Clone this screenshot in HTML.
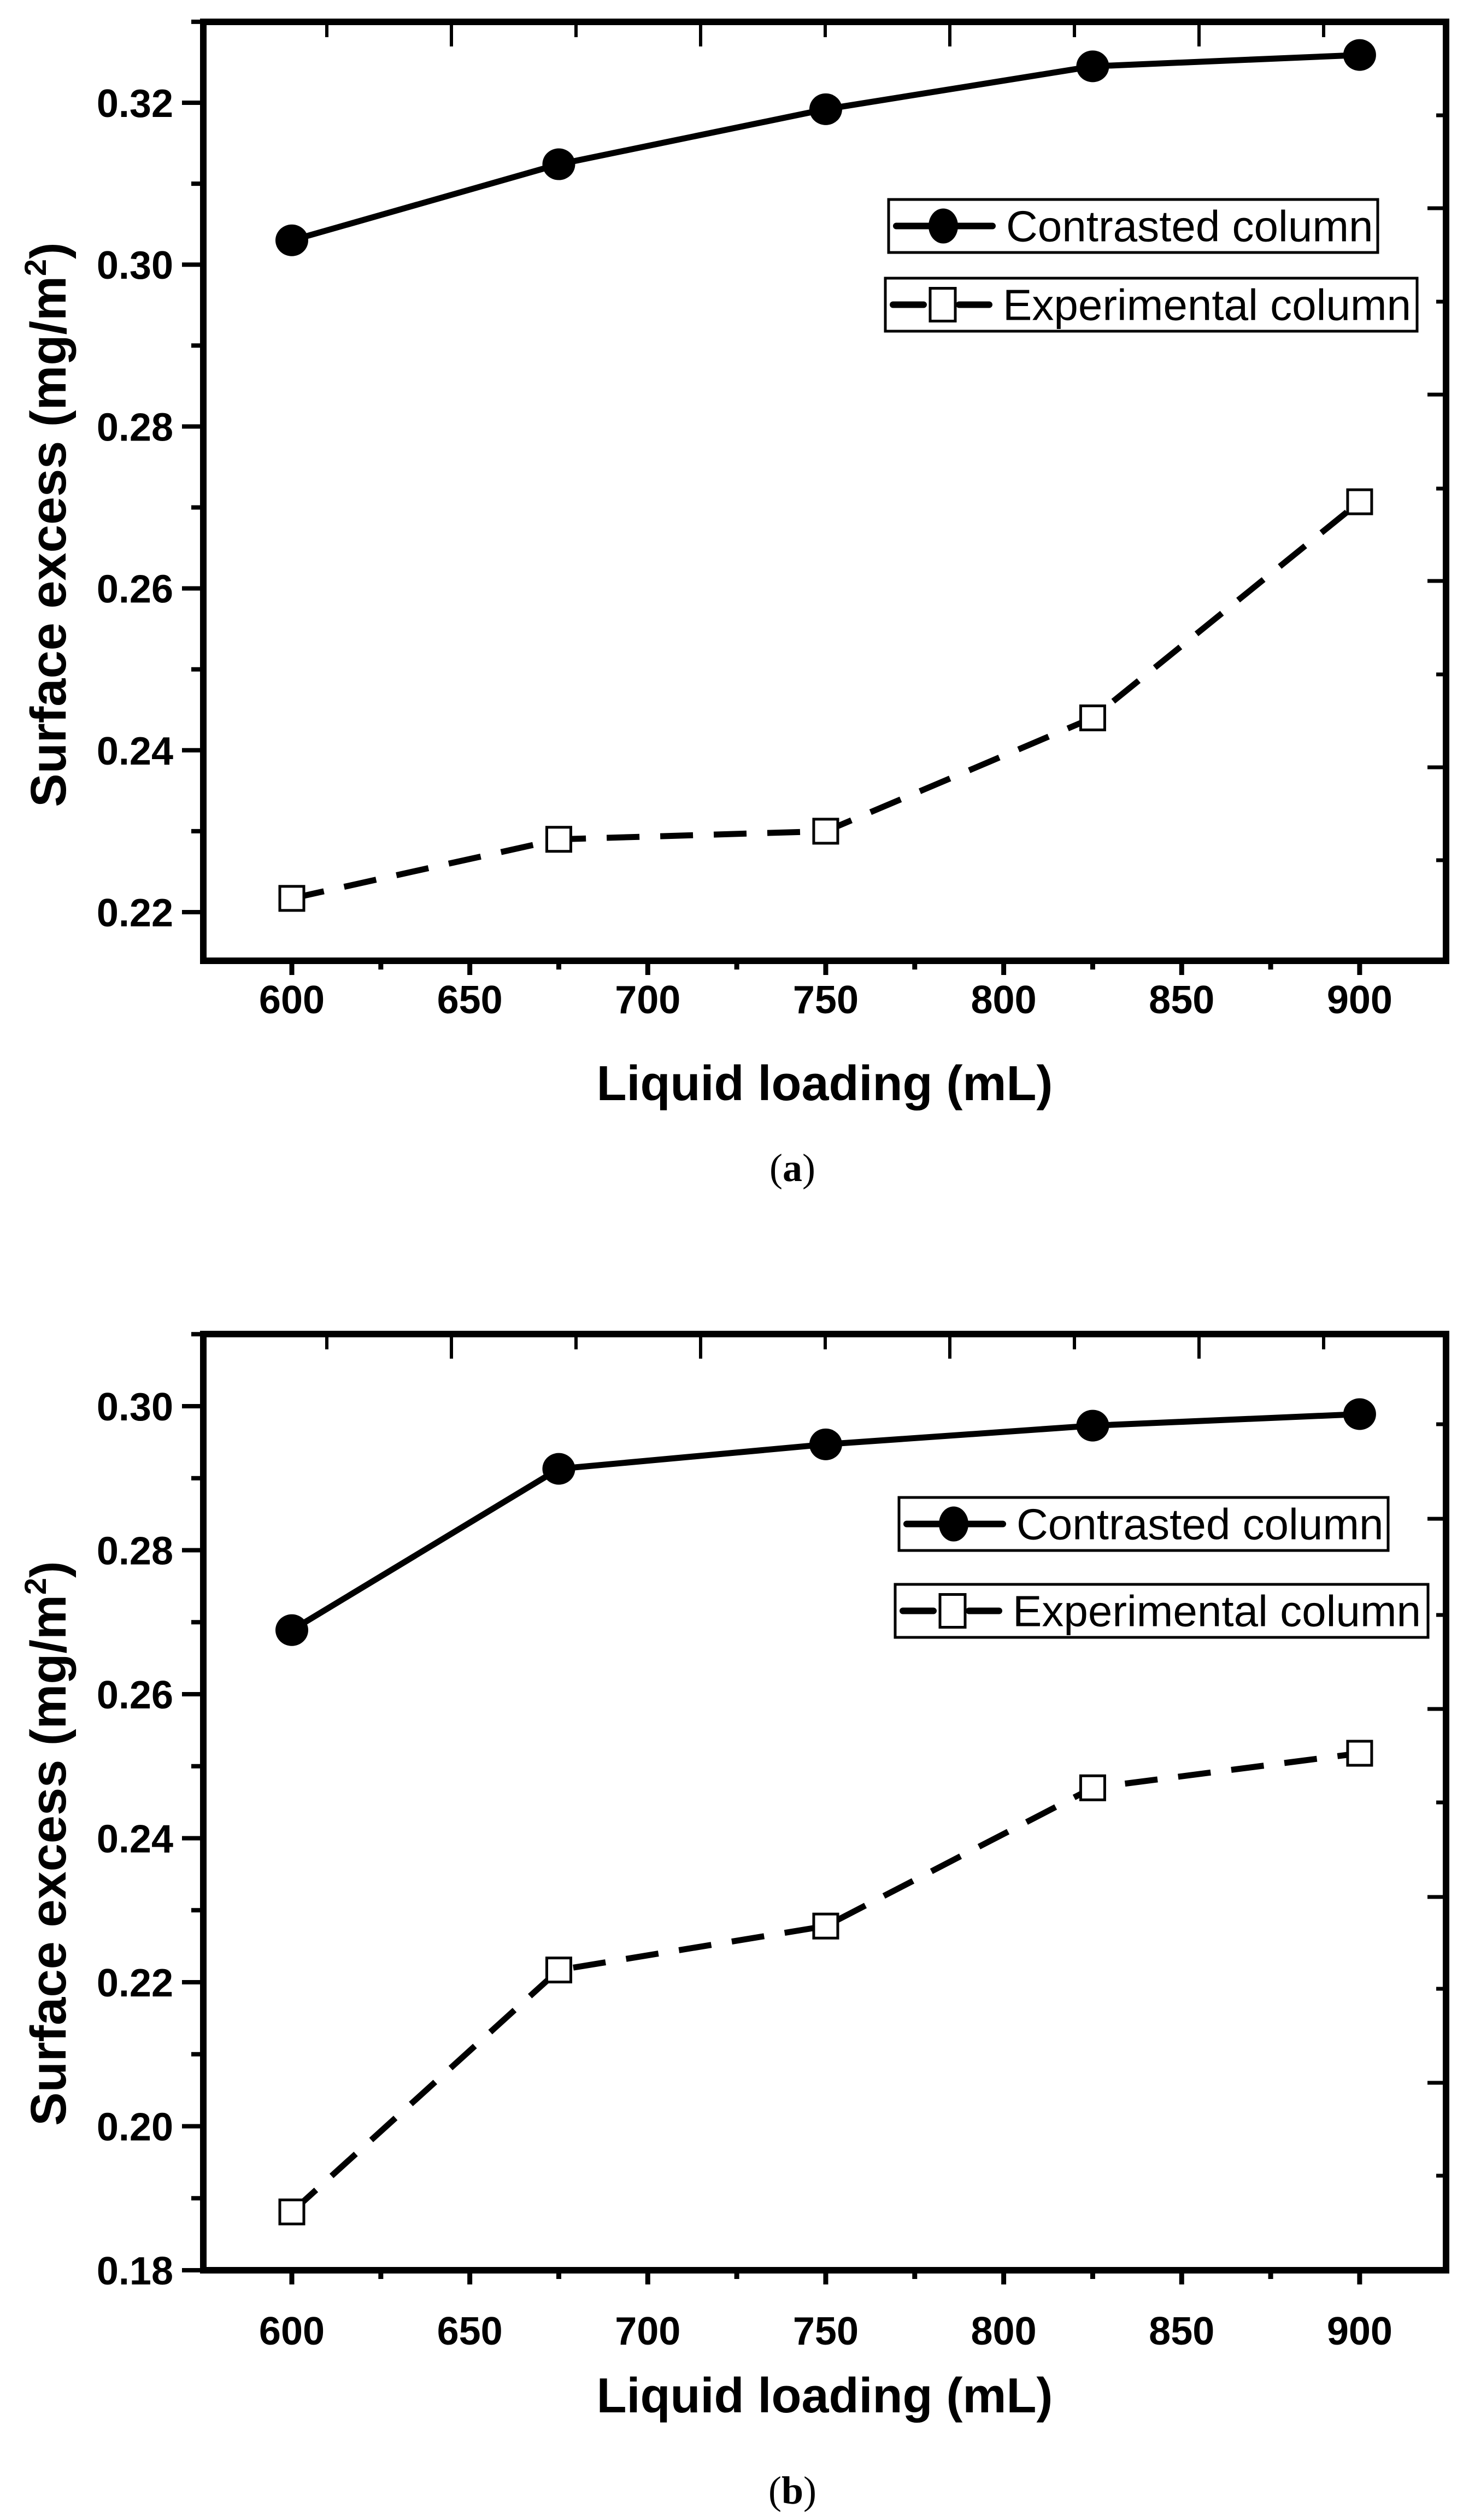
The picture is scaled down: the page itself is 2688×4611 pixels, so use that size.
<!DOCTYPE html>
<html><head><meta charset="utf-8">
<style>html,body{margin:0;padding:0;background:#fff}svg{display:block}</style>
</head><body>
<svg id="fig" xmlns="http://www.w3.org/2000/svg" width="2688" height="4611" viewBox="0 0 2688 4611">
<rect width="2688" height="4611" fill="#fff"/>
</svg>
<script>
const xValues = [600, 675, 750, 825, 900];
const xTicks = [600, 650, 700, 750, 800, 850, 900];
const aContrasted = [0.3030, 0.3124, 0.3192, 0.3245, 0.3259];
const aExperimental = [0.2217, 0.2290, 0.2300, 0.2440, 0.2707];
const aYTicks = ["0.22", "0.24", "0.26", "0.28", "0.30", "0.32"];
const bContrasted = [0.2689, 0.2913, 0.2947, 0.2973, 0.2989];
const bExperimental = [0.1881, 0.2217, 0.2278, 0.2470, 0.2518];
const bYTicks = ["0.18", "0.20", "0.22", "0.24", "0.26", "0.28", "0.30"];

const NS = "http://www.w3.org/2000/svg";
const svg = document.getElementById('fig');
function mk(tag, attrs, parent) {
  const e = document.createElementNS(NS, tag);
  for (const k in attrs) e.setAttribute(k, attrs[k]);
  (parent || svg).appendChild(e);
  return e;
}

function drawPanel(cfg) {
  const g = mk('g', {});
  
  
  const L = 372, R = 2646, T = cfg.top, B = cfg.bottom;
  const xs = v => 534 + (v - 600) * 6.513;
  const ys = v => cfg.y0px + (cfg.y0 - v) * cfg.k;

  const fr = mk('rect', {x: L, y: T, width: R - L, height: B - T, fill: 'none', stroke: '#000', 'stroke-width': 12}, g);
  
  

  const ymin = parseFloat(cfg.yTicks[0]);
  for (let i = 0; i < cfg.yTicks.length * 2; i++) {
    const v = ymin + i * 0.01;
    const y = ys(v);
    if (y < T - 2) break;
    const major = i % 2 === 0;
    mk('line', {x1: major ? 333 : 350, x2: L, y1: y, y2: y, stroke: '#000', 'stroke-width': 8}, g);
  }
  cfg.yTicks.forEach(t => {
    const tx = mk('text', {x: 317, y: ys(parseFloat(t)) + 26, 'text-anchor': 'end', 'font-family': 'Liberation Sans, sans-serif', 'font-weight': 'bold', 'font-size': 72}, g);
    tx.textContent = t;
    
    
  });
  for (let v = 600; v <= 900; v += 25) {
    const major = v % 50 === 0;
    mk('line', {x1: xs(v), x2: xs(v), y1: B, y2: B + (major ? 26 : 16), stroke: '#000', 'stroke-width': 9}, g);
  }
  xTicks.forEach(t => {
    const tx = mk('text', {x: xs(t), y: cfg.xLabelY, 'text-anchor': 'middle', 'font-family': 'Liberation Sans, sans-serif', 'font-weight': 'bold', 'font-size': 72}, g);
    tx.textContent = t;
    
    
  });
  for (let i = 0; i < 9; i++) {
    const x = 598 + i * 228;
    mk('line', {x1: x, x2: x, y1: T, y2: T + (i % 2 ? 45 : 28), stroke: '#000', 'stroke-width': 6}, g);
  }
  cfg.rightTicks.forEach((y, i) => {
    mk('line', {x1: R, x2: R - (i % 2 ? 34 : 18), y1: y, y2: y, stroke: '#000', 'stroke-width': 7}, g);
  });

  const ptsC = xValues.map((x, i) => xs(x) + ',' + ys(cfg.c[i])).join(' ');
  const lc = mk('polyline', {points: ptsC, fill: 'none', stroke: '#000', 'stroke-width': 11}, g);
  
  
  const ptsE = xValues.map((x, i) => xs(x) + ',' + ys(cfg.e[i])).join(' ');
  const le = mk('polyline', {points: ptsE, fill: 'none', stroke: '#000', 'stroke-width': 11, 'stroke-dasharray': '60 38'}, g);
  
  
  xValues.forEach((x, i) => {
    const c = mk('ellipse', {cx: xs(x), cy: ys(cfg.c[i]), rx: 30, ry: 29, fill: '#000'}, g);
    
    
    const s = mk('rect', {x: xs(x) - 22, y: ys(cfg.e[i]) - 22, width: 44, height: 44, fill: '#fff', stroke: '#000', 'stroke-width': 5}, g);
    
    
  });

  const lg = mk('g', {}, g);
  
  
  const b1 = cfg.leg1, b2 = cfg.leg2;
  mk('rect', {x: b1[0], y: b1[1], width: b1[2] - b1[0], height: b1[3] - b1[1], fill: '#fff', stroke: '#000', 'stroke-width': 5}, lg);
  const cy1 = (b1[1] + b1[3]) / 2;
  mk('line', {x1: b1[0] + 14, x2: b1[0] + 190, y1: cy1, y2: cy1, stroke: '#000', 'stroke-width': 12, 'stroke-linecap': 'round'}, lg);
  mk('ellipse', {cx: b1[0] + 100, cy: cy1, rx: 27, ry: 32, fill: '#000'}, lg);
  const t1 = mk('text', {x: b1[0] + 215, y: cy1 + 28, 'font-family': 'Liberation Sans, sans-serif', 'font-size': 80}, lg);
  t1.textContent = 'Contrasted column';
  
  
  mk('rect', {x: b2[0], y: b2[1], width: b2[2] - b2[0], height: b2[3] - b2[1], fill: '#fff', stroke: '#000', 'stroke-width': 5}, lg);
  const cy2 = (b2[1] + b2[3]) / 2;
  mk('line', {x1: b2[0] + 14, x2: b2[0] + 70, y1: cy2, y2: cy2, stroke: '#000', 'stroke-width': 12, 'stroke-linecap': 'round'}, lg);
  mk('line', {x1: b2[0] + 135, x2: b2[0] + 190, y1: cy2, y2: cy2, stroke: '#000', 'stroke-width': 12, 'stroke-linecap': 'round'}, lg);
  mk('rect', {x: b2[0] + 82, y: cy2 - 30, width: 46, height: 60, fill: '#fff', stroke: '#000', 'stroke-width': 5}, lg);
  const t2 = mk('text', {x: b2[0] + 215, y: cy2 + 28, 'font-family': 'Liberation Sans, sans-serif', 'font-size': 80}, lg);
  t2.textContent = 'Experimental column';
  
  

  const xt = mk('text', {x: 1509, y: cfg.xTitleY, 'text-anchor': 'middle', 'font-family': 'Liberation Sans, sans-serif', 'font-weight': 'bold', 'font-size': 90}, g);
  xt.textContent = 'Liquid loading (mL)';
  
  
  const yt = mk('text', {x: 0, y: 0, 'text-anchor': 'middle', 'font-family': 'Liberation Sans, sans-serif', 'font-weight': 'bold', 'font-size': 92, transform: 'translate(120,' + cfg.ytitleY + ') rotate(-90)'}, g);
  yt.innerHTML = 'Surface excess (mg/m<tspan dy="-36" font-size="56">2</tspan><tspan dy="36">)</tspan>';
  
  
  const cap = mk('text', {x: 1450, y: cfg.capY, 'text-anchor': 'middle', 'font-family': 'Liberation Serif, serif', 'font-size': 72}, g);
  cap.innerHTML = '(<tspan font-weight="bold">' + cfg.cap + '</tspan>)';
  
  
}

drawPanel({name: 'chart-a', top: 40, bottom: 1758, y0: 0.32, y0px: 188, k: 14810,
  yTicks: aYTicks, c: aContrasted, e: aExperimental,
  rightTicks: [211, 381, 552, 722, 894, 1063, 1234, 1404, 1574],
  leg1: [1626, 365, 2521, 462], leg2: [1620, 509, 2593, 606],
  xLabelY: 1854, xTitleY: 2013, ytitleY: 960, capY: 2161, cap: 'a'});
drawPanel({name: 'chart-b', top: 2441, bottom: 4154, y0: 0.30, y0px: 2573, k: 13175,
  yTicks: bYTicks, c: bContrasted, e: bExperimental,
  rightTicks: [2606, 2779, 2955, 3127, 3298, 3471, 3639, 3811, 3981],
  leg1: [1645, 2740, 2540, 2837], leg2: [1638, 2899, 2613, 2996],
  xLabelY: 4290, xTitleY: 4414, ytitleY: 3373, capY: 4581, cap: 'b'});
</script>
</body></html>
